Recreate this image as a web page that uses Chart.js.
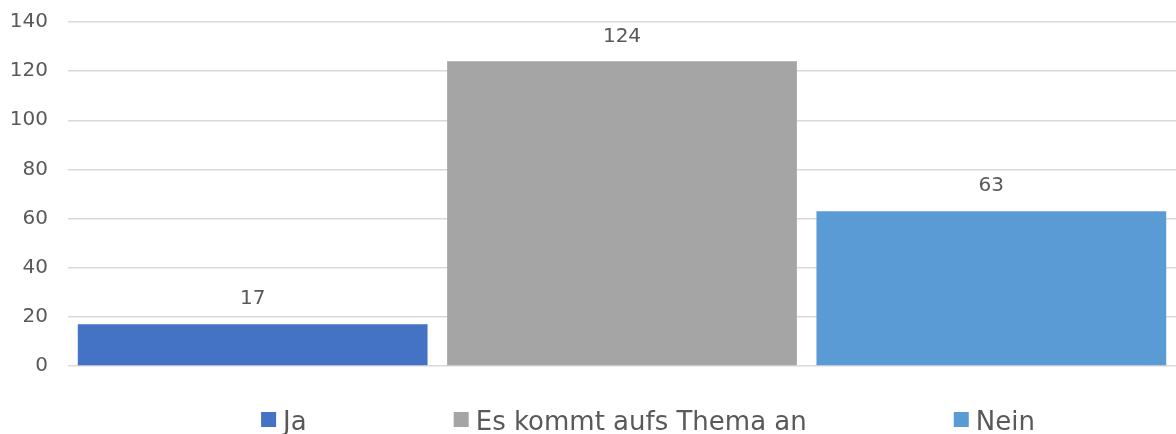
<!DOCTYPE html>
<html>
<head>
<meta charset="utf-8">
<script src="https://cdn.jsdelivr.net/npm/chart.js@4"></script>
<style>
  html, body { margin: 0; padding: 0; background: #fff; }
  #wrap { width: 1176px; height: 434px; }
</style>
</head>
<body>
<div id="wrap"><canvas id="myChart" width="1176" height="434"></canvas></div>
<script>
var categories = [''];
var seriesNames = ['Ja', 'Es kommt aufs Thema an', 'Nein'];
var seriesValues = [[17], [124], [63]];
var seriesColors = ['#4472C4', '#A5A5A5', '#5B9BD5'];
var yTicks = [0, 20, 40, 60, 80, 100, 120, 140];

var fontName = "'DejaVu Sans', sans-serif";
var textColor = '#595959';

// draw the value above each bar
var valueLabels = {
  id: 'valueLabels',
  afterDatasetsDraw: function(chart) {
    var ctx = chart.ctx;
    ctx.save();
    ctx.font = '20px ' + fontName;
    ctx.fillStyle = textColor;
    ctx.textAlign = 'center';
    ctx.textBaseline = 'middle';
    chart.data.datasets.forEach(function(ds, i) {
      chart.getDatasetMeta(i).data.forEach(function(bar, j) {
        ctx.fillText(ds.data[j], bar.x, bar.y - 25);
      });
    });
    ctx.restore();
  }
};

// Excel-like legend with wide gaps between the entries
var wideLegend = {
  id: 'wideLegend',
  afterDraw: function(chart) {
    var ctx = chart.ctx;
    var box = 15, gapText = 7, gapItem = 147, centre = 648;
    ctx.save();
    ctx.font = '26px ' + fontName;
    ctx.textBaseline = 'alphabetic';
    ctx.textAlign = 'left';
    var widths = chart.data.datasets.map(function(ds) {
      return box + gapText + ctx.measureText(ds.label).width;
    });
    var total = widths.reduce(function(a, b) { return a + b; }, 0) + gapItem * (widths.length - 1);
    var x = centre - total / 2;
    var y = chart.chartArea.bottom + 46;
    chart.data.datasets.forEach(function(ds, i) {
      ctx.fillStyle = ds.backgroundColor;
      ctx.fillRect(x, y, box, box);
      ctx.fillStyle = textColor;
      ctx.fillText(ds.label, x + box + gapText, y + 18);
      x += widths[i] + gapItem;
    });
    ctx.restore();
  }
};

var datasets = seriesNames.map(function(name, i) {
  return {
    label: name,
    data: seriesValues[i],
    backgroundColor: seriesColors[i],
    categoryPercentage: 1.0,
    barPercentage: 0.947
  };
});

var contx = document.getElementById('myChart').getContext('2d');
var myChart = new Chart(contx, {
  type: 'bar',
  data: {
    labels: categories,
    datasets: datasets
  },
  plugins: [valueLabels, wideLegend],
  options: {
    responsive: false,
    animation: false,
    events: [],
    layout: { padding: { top: 22, right: 0, left: 0, bottom: 68 } },
    plugins: {
      tooltip: { enabled: false },
      legend: { display: false }
    },
    scales: {
      x: { display: false },
      y: {
        min: 0,
        max: 140,
        afterBuildTicks: function(axis) {
          axis.ticks = yTicks.map(function(v) { return { value: v }; });
        },
        afterFit: function(axis) {
          axis.width = 68;
          axis.paddingTop = 0;
          axis.paddingBottom = 0;
        },
        border: { display: false },
        grid: { color: '#d9d9d9', lineWidth: 1.5, drawTicks: false },
        ticks: {
          padding: 20,
          color: textColor,
          font: { family: fontName, size: 20 }
        }
      }
    }
  }
});
</script>
</body>
</html>
